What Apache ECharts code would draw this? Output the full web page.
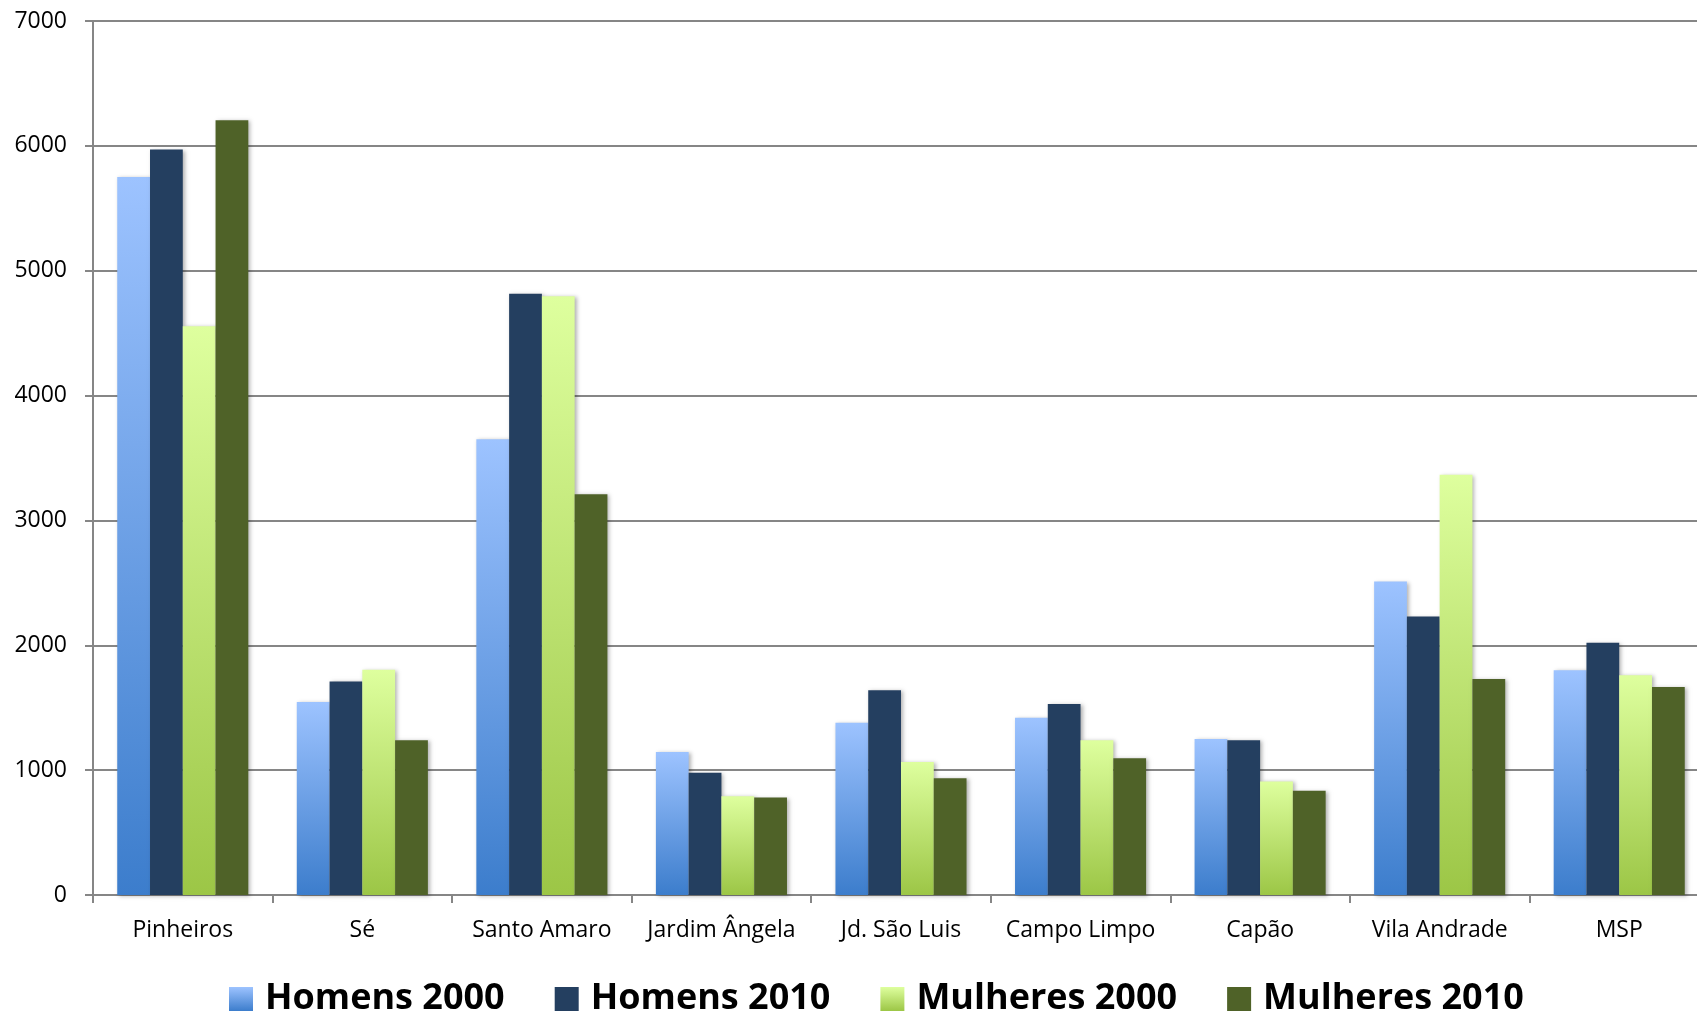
<!DOCTYPE html>
<html>
<head>
<meta charset="utf-8">
<script src="https://cdn.jsdelivr.net/npm/echarts@6/dist/echarts.min.js"></script>
<style>
  html, body { margin: 0; padding: 0; background: #fff; overflow: hidden; }
  /* o gráfico original ultrapassa um pouco a borda direita */
  #chart { width: 1709px; height: 1015px; }
</style>
</head>
<body>
<div id="chart"></div>
<script>
// categorias (distritos)
const categories = ["Pinheiros", "Sé", "Santo Amaro", "Jardim Ângela", "Jd. São Luis", "Campo Limpo", "Capão", "Vila Andrade", "MSP"];

// valores
const homens2000 = [5750, 1545, 3650, 1145, 1380, 1420, 1250, 2510, 1800];
const homens2010 = [5970, 1710, 4815, 980, 1640, 1530, 1240, 2230, 2020];
const mulheres2000 = [4555, 1805, 4795, 790, 1065, 1240, 910, 3365, 1760];
const mulheres2010 = [6205, 1240, 3210, 780, 935, 1095, 835, 1730, 1665];

const yTicks = [0, 1000, 2000, 3000, 4000, 5000, 6000, 7000];

const chart = echarts.init(document.getElementById("chart"));

function grad(top, bottom) {
  return new echarts.graphic.LinearGradient(0, 0, 0, 1, [
    { offset: 0, color: top },
    { offset: 1, color: bottom }
  ]);
}

const shadow = {
  shadowColor: "rgba(0,0,0,0.3)",
  shadowBlur: 4,
  shadowOffsetX: 2,
  shadowOffsetY: 1
};

const series = [
  { name: "Homens 2000", data: homens2000, color: grad("#9DC3FF", "#3C7DCC") },
  { name: "Homens 2010", data: homens2010, color: "#243F60" },
  { name: "Mulheres 2000", data: mulheres2000, color: grad("#DEFF9E", "#9CC646") },
  { name: "Mulheres 2010", data: mulheres2010, color: "#4F6228" }
].map(s => ({
  name: s.name,
  type: "bar",
  data: s.data,
  barGap: "0%",
  barCategoryGap: "27%",
  itemStyle: Object.assign({ color: s.color }, shadow)
}));

const options = {
  animation: false,
  textStyle: { fontFamily: "Open Sans" },
  grid: { left: 93, right: 0, top: 21, bottom: 120 },
  legend: {
    top: 976,
    left: 224,
    itemWidth: 24,
    itemHeight: 24,
    itemGap: 50,
    icon: "rect",
    textStyle: { fontSize: 36, fontWeight: "bold", color: "#000", fontFamily: "Open Sans", padding: [0, 0, 0, 7] }
  },
  xAxis: {
    type: "category",
    data: categories,
    axisLine: { lineStyle: { color: "#868686", width: 2 } },
    axisTick: { show: true, interval: 0, length: 8, lineStyle: { color: "#868686", width: 2 } },
    axisLabel: { interval: 0, fontSize: 23, color: "#000", margin: 24 }
  },
  yAxis: {
    type: "value",
    min: yTicks[0],
    max: yTicks[yTicks.length - 1],
    interval: 1000,
    axisLine: { show: true, lineStyle: { color: "#868686", width: 2 } },
    axisTick: { show: true, length: 8, lineStyle: { color: "#868686", width: 2 } },
    splitLine: { lineStyle: { color: "#868686", width: 2 } },
    axisLabel: { fontSize: 23, color: "#000", margin: 26, formatter: v => String(v) }
  },
  series: series
};

chart.setOption(options);
</script>
</body>
</html>
